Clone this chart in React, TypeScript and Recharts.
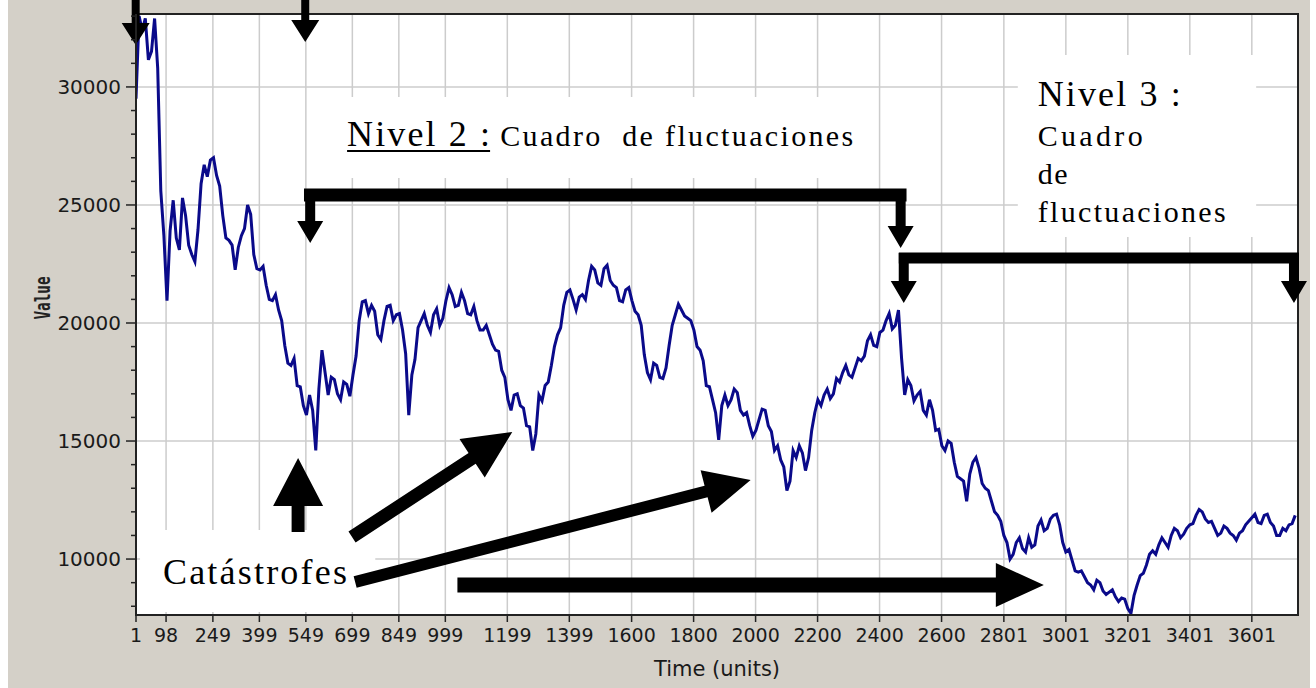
import React from 'react';
import {
  CartesianGrid,
  LineChart,
  Line,
  ReferenceArea,
  ReferenceDot,
  ReferenceLine,
  XAxis,
  YAxis
} from 'recharts';

// sampled every 10 time units, starting at t = 1
const TIME_START = 1;
const TIME_STEP = 10;

const values = [
  29500, 33000, 32400, 32900, 31150, 31500, 32900, 30800, 25600, 23700,
  20950, 23900, 25200, 23600, 23100, 25300, 24550, 23300, 22900, 22600,
  23950, 25900, 26700, 26200, 26900, 27000, 26250, 25800, 24550, 23600,
  23500, 23300, 22250, 23200, 23700, 24000, 25000, 24600, 22900, 22300,
  22250, 22400, 21600, 21000, 20950, 21200, 20550, 20100, 19050, 18300,
  18200, 18500, 17350, 17300, 16500, 16100, 16950, 16300, 14600, 17200,
  18850, 17900, 16950, 17700, 17600, 17000, 16750, 17500, 17400, 16900,
  17800, 18600, 20100, 20900, 20950, 20400, 20750, 20500, 19500, 19300,
  20100, 20700, 20750, 20100, 20350, 20400, 19700, 18700, 16100, 17800,
  18450, 19800, 20100, 20400, 19900, 19600, 20350, 20600, 19900, 20200,
  20950, 21500, 21200, 20700, 20750, 21300, 20950, 20400, 20350, 20700,
  20100, 19700, 19700, 19900, 19500, 19100, 18850, 18800, 18000, 17700,
  16750, 16300, 16950, 17000, 16500, 16400, 15650, 15600, 14600, 15300,
  16950, 16700, 17350, 17500, 18200, 19000, 19500, 19800, 20750, 21300,
  21400, 21000, 20550, 21100, 21200, 21000, 21800, 22400, 22250, 21700,
  21600, 22300, 22450, 21800, 21600, 21500, 20950, 20900, 21400, 21500,
  20950, 20500, 20350, 19900, 18650, 17900, 17600, 18300, 18200, 17700,
  17650, 18100, 19050, 19900, 20350, 20800, 20550, 20300, 20200, 20100,
  19700, 19000, 18850, 18400, 17350, 17300, 16750, 16200, 15050, 16500,
  16950, 16500, 16750, 17200, 17050, 16300, 16100, 16200, 15650, 15200,
  15450, 15900, 16350, 16300, 15650, 15400, 14600, 14800, 14200, 13900,
  12900, 13300, 14600, 14300, 14800, 14500, 13750, 14300, 15450, 16200,
  16750, 16500, 16950, 17200, 16800, 17000, 17650, 17500, 17900, 18200,
  17800, 17700, 18100, 18500, 18400, 18600, 19250, 19500, 19050, 19000,
  19600, 19700, 20100, 20400, 19750, 19900, 20550, 18500, 16950, 17600,
  17350, 16700, 16950, 17100, 16300, 16100, 16750, 16300, 15450, 15500,
  14800, 14600, 15000, 14900, 14100, 13500, 13400, 13300, 12450, 13600,
  14100, 14300, 13850, 13200, 13000, 12900, 12450, 12000, 11850, 11600,
  11000, 10700, 10000, 10200, 10700, 10900, 10450, 10300, 10900, 10500,
  10600, 11400, 11650, 11200, 11300, 11700, 11850, 11900, 11450, 10700,
  10300, 10400, 9950, 9500, 9450, 9500, 9250, 9000, 8900, 8700,
  9100, 9000, 8650, 8500, 8600, 8700, 8400, 8200, 8350, 8300,
  7900, 7700, 8450, 8900, 9300, 9400, 9750, 10200, 10350, 10200,
  10600, 10900, 10700, 10500, 11000, 11300, 11200, 10900, 11050, 11300,
  11450, 11500, 11850, 12100, 12000, 11700, 11550, 11600, 11300, 11000,
  11100, 11400, 11300, 11100, 11000, 10800, 11100, 11200, 11450, 11600,
  11750, 11900, 11550, 11500, 11850, 11900, 11550, 11400, 11000, 11000,
  11300, 11200, 11450, 11500, 11850
];

const xTicks = [
  1, 98, 249, 399, 549, 699, 849, 999, 1199, 1399, 1600, 1800, 2000, 2200,
  2400, 2600, 2801, 3001, 3201, 3401, 3601
];
const yMajor = [10000, 15000, 20000, 25000, 30000];
const yTicks = [
  8000, 9000, 10000, 11000, 12000, 13000, 14000, 15000, 16000, 17000, 18000,
  19000, 20000, 21000, 22000, 23000, 24000, 25000, 26000, 27000, 28000, 29000,
  30000, 31000, 32000, 33000
];

// annotation arrows: [t, value] from -> to (tip)
const arrows = [
  { from: [0, 33900], to: [0, 31780], w: 8, hw: 28, hl: 22 },
  { from: [547, 33900], to: [547, 31900], w: 8, hw: 28, hl: 22 },
  // nivel 2 bracket
  { from: [543, 25424], to: [2487, 25424], w: 13, hw: 13, hl: 0 },
  { from: [563, 25680], to: [563, 23390], w: 10, hw: 26, hl: 22 },
  { from: [2468, 25680], to: [2468, 23180], w: 10, hw: 26, hl: 22 },
  // nivel 3 bracket
  { from: [2462, 22755], to: [3753, 22755], w: 11, hw: 11, hl: 0 },
  { from: [2478, 22970], to: [2478, 20850], w: 10, hw: 26, hl: 22 },
  { from: [3737, 22970], to: [3737, 20850], w: 10, hw: 26, hl: 22 },
  // catastrofes
  { from: [524, 11145], to: [524, 14281], w: 13, hw: 50, hl: 48 },
  { from: [698, 10933], to: [1215, 15382], w: 13, hw: 46, hl: 48 },
  { from: [708, 9027], to: [1984, 13349], w: 12, hw: 44, hl: 46 },
  { from: [1038, 8900], to: [2930, 8900], w: 15, hw: 44, hl: 48 }
];

const boxes = [
  { x1: 14, x2: 773, y1: 7756, y2: 11230 },
  { x1: 579, x2: 2371, y1: 26144, y2: 29576 },
  { x1: 2846, x2: 3615, y1: 23645, y2: 31356 }
];

const notes = [
  { t: 88, v: 8942, text: 'Catástrofes', size: 36, len: 184 },
  { t: 682, v: 27500, text: 'Nivel 2 :', size: 36, len: 143, underline: true },
  { t: 1176, v: 27500, text: 'Cuadro\u00a0 de fluctuaciones', size: 30, len: 353 },
  { t: 2910, v: 29195, text: 'Nivel 3 :', size: 36, len: 143 },
  { t: 2910, v: 27500, text: 'Cuadro', size: 30, len: 105 },
  { t: 2910, v: 25890, text: 'de', size: 30, len: 30 },
  { t: 2910, v: 24280, text: 'fluctuaciones', size: 30, len: 188 }
];

const data = values.map((v, i) => ({ time: TIME_START + i * TIME_STEP, value: v }));

const arrowShape = (w: number, hw: number, hl: number) => (props: any) => {
  const { x1, y1, x2, y2 } = props;
  const len = Math.hypot(x2 - x1, y2 - y1) || 1;
  const dx = (x2 - x1) / len;
  const dy = (y2 - y1) / len;
  const nx = -dy;
  const ny = dx;
  const bx = x2 - dx * hl;
  const by = y2 - dy * hl;
  const pts = [
    [x1 + (nx * w) / 2, y1 + (ny * w) / 2],
    [bx + (nx * w) / 2, by + (ny * w) / 2],
    [bx + (nx * hw) / 2, by + (ny * hw) / 2],
    [x2, y2],
    [bx - (nx * hw) / 2, by - (ny * hw) / 2],
    [bx - (nx * w) / 2, by - (ny * w) / 2],
    [x1 - (nx * w) / 2, y1 - (ny * w) / 2]
  ];
  return <polygon points={pts.map((p) => p.join(',')).join(' ')} fill="#000" />;
};

const YTick = (props: any) => {
  const { x, y, payload } = props;
  const axisX = x + 15;
  const major = payload.value % 5000 === 0;
  return (
    <g>
      <line x1={axisX - (major ? 10 : 5)} y1={y} x2={axisX} y2={y} stroke="#222" strokeWidth={1.5} />
      {major && (
        <text x={x} y={y} dy="0.36em" textAnchor="end" fontSize={20} fill="#1a1a1a" fontFamily="DejaVu Sans">
          {payload.value}
        </text>
      )}
    </g>
  );
};

export default function App() {
  return (
    <div style={{ position: 'absolute', left: 0, top: 0, width: 1316, height: 688, background: '#fff' }}>
      <div style={{ position: 'absolute', left: 8, top: 0, width: 1302, height: 688, background: '#d4d0c8' }}>
        <LineChart width={1302} height={688} data={data} margin={{ top: 14, right: 12, bottom: 0, left: 0 }}>
          <CartesianGrid
            fill="#fff"
            stroke="#cccccc"
            strokeWidth={1.5}
            horizontalValues={yMajor}
          />
          <XAxis
            dataKey="time"
            type="number"
            domain={[1, 3750]}
            ticks={xTicks}
            interval={0}
            height={73}
            tickSize={7}
            tickMargin={7}
            tick={{ fontSize: 19, fill: '#1a1a1a', fontFamily: 'DejaVu Sans' }}
            axisLine={{ stroke: '#222', strokeWidth: 2 }}
            tickLine={{ stroke: '#222', strokeWidth: 1.5 }}
            allowDataOverflow
            label={(p: any) => (
              <text
                x={p.viewBox.x + p.viewBox.width / 2}
                y={p.viewBox.y + 61}
                textAnchor="middle"
                fontSize={21}
                fill="#1a1a1a"
                fontFamily="DejaVu Sans"
              >
                Time (units)
              </text>
            )}
          />
          <YAxis
            type="number"
            domain={[7630, 33090]}
            ticks={yTicks}
            interval={0}
            width={128}
            tickSize={10}
            tickMargin={5}
            tickLine={false}
            tick={<YTick />}
            axisLine={{ stroke: '#222', strokeWidth: 2 }}
            allowDataOverflow
            label={() => (
              <text
                x={34}
                y={298}
                transform="rotate(-90 34 298)"
                textAnchor="middle"
                dominantBaseline="central"
                fontSize={22}
                fontWeight="bold"
                fill="#222"
                fontFamily="DejaVu Sans Mono"
                textLength={43}
                lengthAdjust="spacingAndGlyphs"
              >
                Value
              </text>
            )}
          />
          <ReferenceArea x1={1} x2={3750} y1={7630} y2={33090} fill="none" stroke="#222" strokeWidth={2} ifOverflow="visible" />
          {boxes.map((b, i) => (
            <ReferenceArea key={'b' + i} x1={b.x1} x2={b.x2} y1={b.y1} y2={b.y2} fill="#fff" fillOpacity={1} stroke="none" ifOverflow="visible" />
          ))}
          <Line
            type="linear"
            dataKey="value"
            stroke="#0a0a8a"
            strokeWidth={3}
            dot={false}
            isAnimationActive={false}
          />
          {arrows.map((a, i) => (
            <ReferenceLine
              key={'a' + i}
              segment={[
                { x: a.from[0], y: a.from[1] },
                { x: a.to[0], y: a.to[1] }
              ]}
              ifOverflow="visible"
              shape={arrowShape(a.w, a.hw, a.hl)}
            />
          ))}
          {notes.map((n, i) => (
            <ReferenceDot
              key={'n' + i}
              x={n.t}
              y={n.v}
              r={0}
              ifOverflow="visible"
              shape={(p: any) => (
                <g>
                  <text
                    x={p.cx}
                    y={p.cy}
                    fontSize={n.size}
                    fill="#000"
                    fontFamily="Liberation Serif, Times New Roman, serif"
                    textLength={n.len}
                    lengthAdjust="spacing"
                  >
                    {n.text}
                  </text>
                  {n.underline && (
                    <line x1={p.cx} y1={p.cy + 5} x2={p.cx + n.len} y2={p.cy + 5} stroke="#000" strokeWidth={2} />
                  )}
                </g>
              )}
            />
          ))}
        </LineChart>
      </div>
    </div>
  );
}
